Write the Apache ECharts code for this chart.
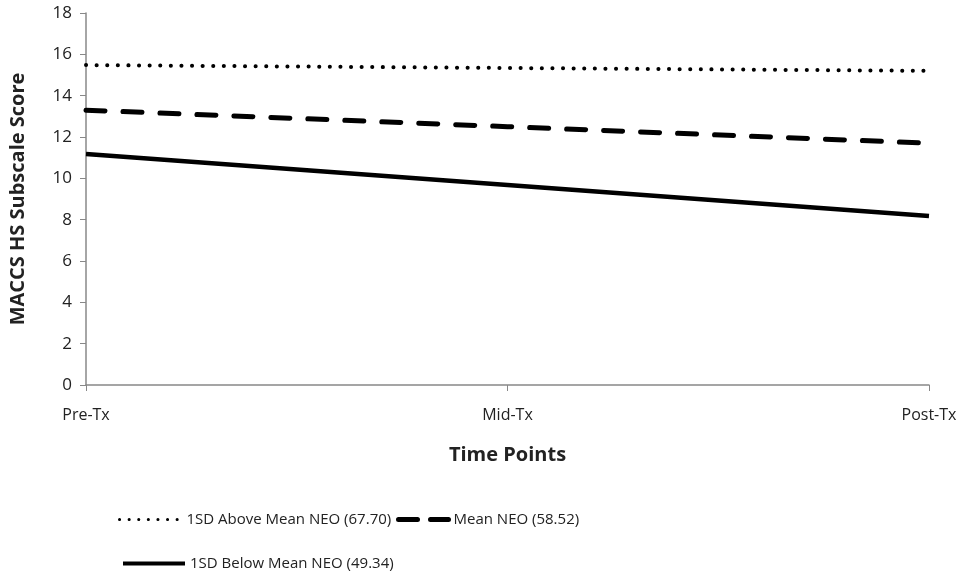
<!DOCTYPE html>
<html>
<head>
<meta charset="utf-8">
<script src="https://cdn.jsdelivr.net/npm/echarts@6/dist/echarts.min.js"></script>
<style>
  html, body { margin: 0; padding: 0; background: #fff; }
  #chart { width: 976px; height: 576px; }
</style>
</head>
<body>
<div id="chart"></div>
<script>
var categories = ['Pre-Tx', 'Mid-Tx', 'Post-Tx'];
var aboveMean = [15.48, 15.34, 15.2];
var meanNeo = [13.3, 12.5, 11.7];
var belowMean = [11.18, 9.68, 8.18];
var seriesNames = ['1SD Above Mean NEO (67.70)', 'Mean NEO (58.52)', '1SD Below Mean NEO (49.34)'];

var font = '"Open Sans", "DejaVu Sans", sans-serif';

// line styles of the series
var dotStyle = { color: '#000', width: 4, type: [0.1, 10.5], cap: 'round' };
var dashStyle = { color: '#000', width: 5, type: [19, 18], cap: 'round' };
var solidStyle = { color: '#000', width: 4.5 };

var legendText = { fontSize: 15, color: '#222', fontFamily: font };

var option = {
    animation: false,
    backgroundColor: '#fff',
    textStyle: { fontFamily: font },
    grid: { left: 84, right: 47, top: 13, bottom: 191 },
    legend: [
        {
            left: 113,
            top: 507,
            itemWidth: 62,
            itemHeight: 14,
            itemStyle: { opacity: 0 },
            textStyle: legendText,
            data: [
                { name: seriesNames[0], lineStyle: { width: 3, type: [0.1, 9.5], cap: 'round' } }
            ]
        },
        {
            left: 391,
            top: 507,
            itemWidth: 50,
            itemHeight: 14,
            itemStyle: { opacity: 0 },
            textStyle: legendText,
            data: [
                { name: seriesNames[1], lineStyle: { width: 5, type: [19, 13], cap: 'round' } }
            ]
        },
        {
            left: 116,
            top: 551,
            itemWidth: 62,
            itemHeight: 14,
            itemStyle: { opacity: 0 },
            textStyle: legendText,
            data: [
                { name: seriesNames[2], lineStyle: { width: 4 } }
            ]
        }
    ],
    xAxis: {
        type: 'category',
        data: categories,
        boundaryGap: false,
        name: 'Time Points',
        nameLocation: 'middle',
        nameGap: 60,
        nameTextStyle: { fontSize: 20, fontWeight: 'bold', color: '#222' },
        axisLine: { lineStyle: { color: '#888', width: 1.5 } },
        axisTick: { show: true, length: 6, lineStyle: { color: '#888' } },
        axisLabel: { fontSize: 16, color: '#222', margin: 22 }
    },
    yAxis: {
        type: 'value',
        min: 0,
        max: 18,
        interval: 2,
        name: 'MACCS HS Subscale Score',
        nameLocation: 'middle',
        nameGap: 58,
        nameTextStyle: { fontSize: 20, fontWeight: 'bold', color: '#222' },
        axisLine: { show: true, lineStyle: { color: '#888', width: 1.5 } },
        axisTick: { show: true, length: 6, lineStyle: { color: '#888' } },
        axisLabel: { fontSize: 17, color: '#222', margin: 14 },
        splitLine: { show: false }
    },
    series: [
        {
            name: seriesNames[0],
            type: 'line',
            data: aboveMean,
            symbol: 'none',
            itemStyle: { color: '#000' },
            lineStyle: dotStyle
        },
        {
            name: seriesNames[1],
            type: 'line',
            data: meanNeo,
            symbol: 'none',
            itemStyle: { color: '#000' },
            lineStyle: dashStyle
        },
        {
            name: seriesNames[2],
            type: 'line',
            data: belowMean,
            symbol: 'none',
            itemStyle: { color: '#000' },
            lineStyle: solidStyle
        }
    ]
};

echarts.init(document.getElementById('chart')).setOption(option);
</script>
</body>
</html>
